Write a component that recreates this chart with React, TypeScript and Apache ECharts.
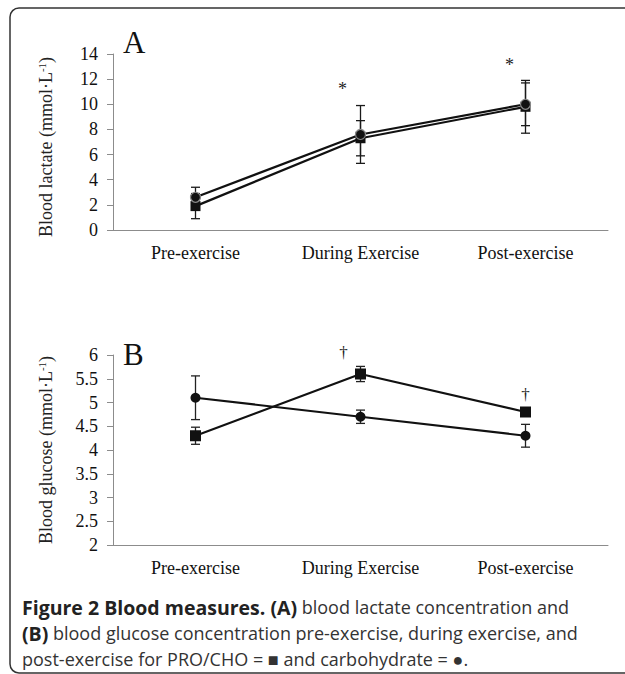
import React, { useEffect, useRef } from 'react';
import * as echarts from 'echarts';

// ---- data ----
const categories = ['Pre-exercise', 'During Exercise', 'Post-exercise'];

// Panel A: blood lactate (mmol·L-1)
const lactateProCho = [1.9, 7.3, 9.8];
const lactateProChoErr = [1.0, 1.4, 2.1];
const lactateCho = [2.6, 7.6, 10.0];
const lactateChoErr = [0.8, 2.3, 1.7];
const lactateAxis = { min: 0, max: 14, interval: 2 };
const lactateMarks = [
  { cat: 1, value: 11.2, text: '*' },
  { cat: 2, value: 13.1, text: '*' },
];

// Panel B: blood glucose (mmol·L-1)
const glucoseProCho = [4.3, 5.6, 4.8];
const glucoseProChoErr = [0.18, 0.16, 0.03];
const glucoseCho = [5.1, 4.7, 4.3];
const glucoseChoErr = [0.46, 0.14, 0.24];
const glucoseAxis = { min: 2, max: 6, interval: 0.5 };
const glucoseMarks = [
  { cat: 1, value: 6.06, text: '†' },
  { cat: 2, value: 5.16, text: '†' },
];

// ---- styling / layout constants ----
const SERIF = '"Liberation Serif", "Times New Roman", serif';
const SANS = '"Open Sans", "Noto Sans", sans-serif';
const AXIS_GRAY = '#8c8c8c';
const INK = '#111';
const markOffsetA = [-18, -16];
const markOffsetB = [-17, 0];

function errData(vals: number[], errs: number[]) {
  return vals.map((v, i) => [i, v - errs[i], v + errs[i]]);
}

function errorSeries(vals: number[], errs: number[], idx: number, color: string) {
  return {
    type: 'custom',
    xAxisIndex: idx,
    yAxisIndex: idx,
    z: 2,
    encode: { x: 0, y: [1, 2] },
    data: errData(vals, errs),
    renderItem: (params: any, api: any) => {
      const x = api.value(0);
      const lo = api.coord([x, api.value(1)]);
      const hi = api.coord([x, api.value(2)]);
      const hw = 4.5;
      const style = { stroke: color, lineWidth: 1.3 };
      return {
        type: 'group',
        children: [
          { type: 'line', shape: { x1: hi[0], y1: hi[1], x2: lo[0], y2: lo[1] }, style },
          { type: 'line', shape: { x1: hi[0] - hw, y1: hi[1], x2: hi[0] + hw, y2: hi[1] }, style },
          { type: 'line', shape: { x1: lo[0] - hw, y1: lo[1], x2: lo[0] + hw, y2: lo[1] }, style },
        ],
      };
    },
  };
}

function markSeries(marks: { cat: number; value: number; text: string }[], idx: number, offsets: number[], size: number) {
  return {
    type: 'custom',
    xAxisIndex: idx,
    yAxisIndex: idx,
    z: 5,
    encode: { x: 0, y: 1 },
    data: marks.map((m) => [m.cat, m.value]),
    renderItem: (params: any, api: any) => {
      const p = api.coord([api.value(0), api.value(1)]);
      const t = marks[params.dataIndex].text;
      return {
        type: 'text',
        x: p[0] + offsets[params.dataIndex],
        y: p[1],
        style: {
          text: t,
          fontFamily: SERIF,
          fontSize: size,
          fill: '#222',
          align: 'center',
          verticalAlign: 'middle',
        },
      };
    },
  };
}

function lineSeries(vals: number[], idx: number, symbol: string, size: number, border: string | null) {
  return {
    type: 'line',
    xAxisIndex: idx,
    yAxisIndex: idx,
    z: 3,
    data: vals,
    symbol,
    symbolSize: size,
    showSymbol: true,
    lineStyle: { color: INK, width: 2.2 },
    itemStyle: border
      ? { color: INK, borderColor: border, borderWidth: 1.2 }
      : { color: INK, borderWidth: 0 },
  };
}

function xAxis(idx: number) {
  return {
    type: 'category',
    gridIndex: idx,
    data: categories,
    boundaryGap: true,
    axisLine: { show: true, lineStyle: { color: AXIS_GRAY, width: 1 } },
    axisTick: { show: false },
    axisLabel: { fontFamily: SERIF, fontSize: 18, color: '#111', margin: 14 },
    splitLine: { show: false },
  };
}

function yAxis(idx: number, ax: { min: number; max: number; interval: number }) {
  return {
    type: 'value',
    gridIndex: idx,
    min: ax.min,
    max: ax.max,
    interval: ax.interval,
    axisLine: { show: true, lineStyle: { color: AXIS_GRAY, width: 1 } },
    axisTick: { show: true, length: 6, lineStyle: { color: AXIS_GRAY } },
    axisLabel: { fontFamily: SERIF, fontSize: 18, color: '#111', margin: 15 },
    splitLine: { show: false },
  };
}

function yName(text: string, cx: number, cy: number) {
  return {
    type: 'text',
    x: cx,
    y: cy,
    rotation: Math.PI / 2,
    style: {
      text: `{a|${text} (mmol·L}{s|-1}{a|)}`,
      align: 'center',
      verticalAlign: 'middle',
      rich: {
        a: { fontFamily: SERIF, fontSize: 18, fill: '#222', lineHeight: 20 },
        s: { fontFamily: SERIF, fontSize: 11, fill: '#222', verticalAlign: 'top', lineHeight: 20, padding: [0, 0, 6, 0] },
      },
    },
  };
}

export default function App() {
  const ref = useRef<HTMLDivElement>(null);
  useEffect(() => {
    if (!ref.current) return;
    const chart = echarts.init(ref.current, undefined, { renderer: 'svg' });
    const capRich = {
      b: { fontFamily: SANS, fontSize: 19.5, fontWeight: 'bold', fill: '#222' },
      n: { fontFamily: SANS, fontSize: 18, fill: '#333' },
    };
    chart.setOption({
      animation: false,
      backgroundColor: '#fff',
      grid: [
        { left: 113, right: 17, top: 54, height: 176 },
        { left: 113, right: 17, top: 355, height: 190 },
      ],
      xAxis: [xAxis(0), xAxis(1)],
      yAxis: [yAxis(0, lactateAxis), yAxis(1, glucoseAxis)],
      series: [
        errorSeries(lactateProCho, lactateProChoErr, 0, '#1a1a1a'),
        errorSeries(lactateCho, lactateChoErr, 0, '#1a1a1a'),
        lineSeries(lactateProCho, 0, 'rect', 10, null),
        lineSeries(lactateCho, 0, 'circle', 10, '#888'),
        markSeries(lactateMarks, 0, markOffsetA, 18),
        errorSeries(glucoseProCho, glucoseProChoErr, 1, '#222'),
        errorSeries(glucoseCho, glucoseChoErr, 1, '#222'),
        lineSeries(glucoseProCho, 1, 'rect', 11, null),
        lineSeries(glucoseCho, 1, 'circle', 10, null),
        markSeries(glucoseMarks, 1, markOffsetB, 17),
      ],
      graphic: [
        {
          type: 'rect',
          shape: { x: 10, y: 8, width: 700, height: 665, r: 9 },
          style: { fill: 'none', stroke: '#333', lineWidth: 1.5 },
          silent: true,
        },
        { type: 'text', x: 123, y: 42, style: { text: 'A', fontFamily: SERIF, fontSize: 31, fill: '#111', align: 'left', verticalAlign: 'middle' } },
        { type: 'text', x: 123, y: 354, style: { text: 'B', fontFamily: SERIF, fontSize: 31, fill: '#111', align: 'left', verticalAlign: 'middle' } },
        yName('Blood lactate', 46, 147),
        yName('Blood glucose', 46, 450),
        { type: 'text', x: 22, y: 607, style: { text: '{b|Figure 2 Blood measures. (A)}{n| blood lactate concentration and}', rich: capRich, verticalAlign: 'middle' } },
        { type: 'text', x: 22, y: 633, style: { text: '{b|(B)}{n| blood glucose concentration pre-exercise, during exercise, and}', rich: capRich, verticalAlign: 'middle' } },
        { type: 'text', x: 22, y: 659, style: { text: '{n|post-exercise for PRO/CHO = ■ and carbohydrate = ●.}', rich: capRich, verticalAlign: 'middle' } },
      ],
    });
    return () => chart.dispose();
  }, []);
  return <div ref={ref} style={{ position: 'absolute', left: 0, top: 0, width: 625, height: 674 }} />;
}
